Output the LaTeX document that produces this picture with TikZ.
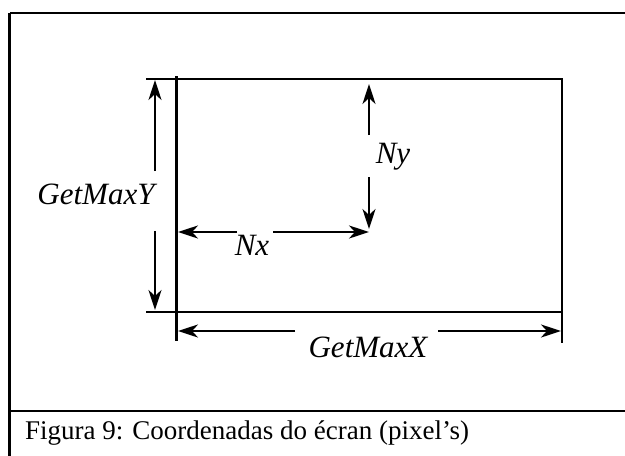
\documentclass[tikz,border=0pt]{standalone}
\usepackage{fontspec}
\setmainfont{Liberation Serif}
\usetikzlibrary{arrows.meta}
\begin{document}
\begin{tikzpicture}[x=1pt,y=-1pt,
  thinframe/.style={line width=1.8pt},
  frame/.style={line width=2.8pt},
  box/.style={line width=2.8pt},
  dim/.style={line width=2.6pt,-{Stealth[length=20pt,width=13pt,inset=6pt]}},
  lbl/.style={font=\fontsize{31}{31}\selectfont\itshape, inner sep=0pt, anchor=base},
  captext/.style={font=\fontsize{27}{27}\selectfont, inner sep=0pt, anchor=base west}]
\useasboundingbox (0,0) rectangle (625,456);
% outer frame and caption divider
\draw[thinframe] (625,13) -- (9.5,13);
\draw[frame] (9.5,12.5) -- (9.5,456);
\draw[thinframe] (9.5,411) -- (625,411);
% screen rectangle
\draw[box] (146,79) -- (562,79) -- (562,343);
\draw[box] (146,312) -- (562,312);
\draw[box] (176.7,76) -- (176.7,341);
% coordinates for dimension arrows
\coordinate (ytop) at (155,80);
\coordinate (ygapA) at (155,171);
\coordinate (ygapB) at (155,231);
\coordinate (ybot) at (155,310);
\coordinate (nytop) at (369,84);
\coordinate (nygapA) at (369,135);
\coordinate (nygapB) at (369,177);
\coordinate (nybot) at (369,229);
\coordinate (nxl) at (178,232);
\coordinate (nxgapA) at (237,232);
\coordinate (nxgapB) at (273,232);
\coordinate (nxr) at (369,232);
\coordinate (xl) at (178,331);
\coordinate (xgapA) at (295,331);
\coordinate (xgapB) at (438,331);
\coordinate (xr) at (561,331);
% labels
\node[lbl] (maxy) at (96,204) {GetMaxY};
\node[lbl] (ny) at (393,163) {Ny};
\node[lbl] (nx) at (252,255) {Nx};
\node[lbl] (maxx) at (368,357) {GetMaxX};
% arrows
\draw[dim] (ygapA) -- (ytop);
\draw[dim] (ygapB) -- (ybot);
\draw[dim] (nygapA) -- (nytop);
\draw[dim] (nygapB) -- (nybot);
\draw[dim] (nxgapA) -- (nxl);
\draw[dim] (nxgapB) -- (nxr);
\draw[dim] (xgapA) -- (xl);
\draw[dim] (xgapB) -- (xr);
% caption
\node[captext] (caption) at (25,439) {Figura 9: Coordenadas do écran (pixel’s)};
\end{tikzpicture}
\end{document}
